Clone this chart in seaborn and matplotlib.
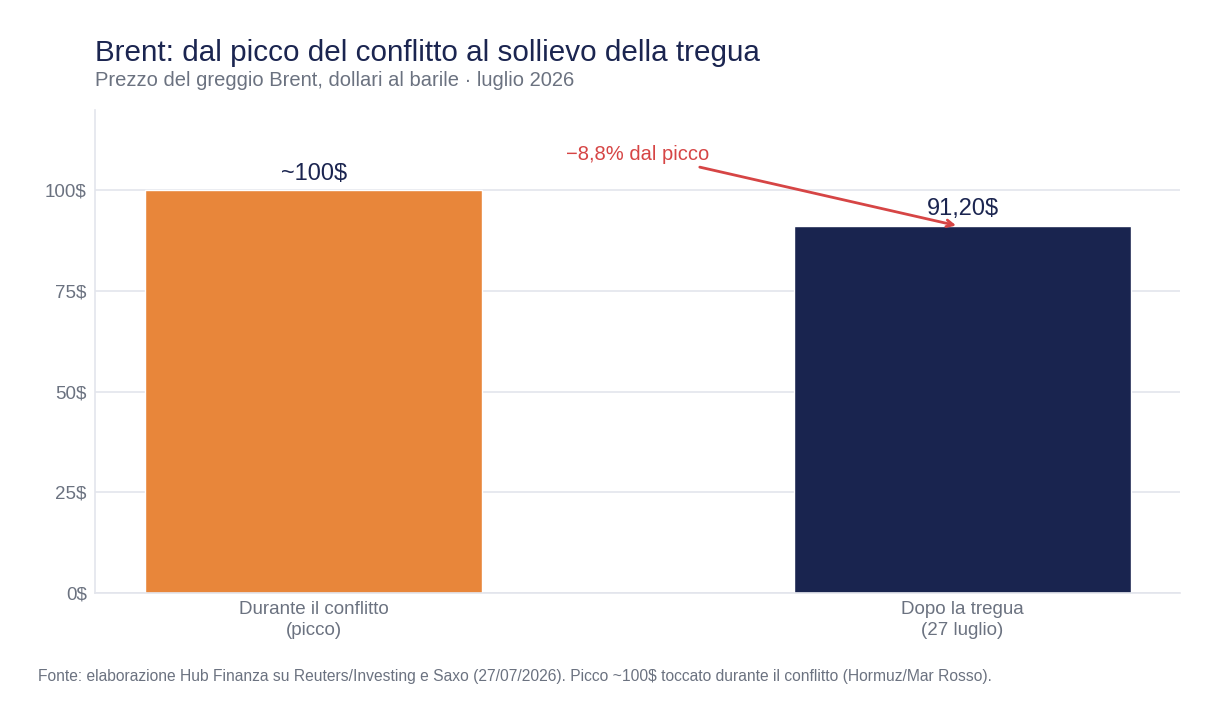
import matplotlib
matplotlib.use('Agg')
import matplotlib.pyplot as plt
import seaborn as sns
import pandas as pd

categories = ['Durante il conflitto\n(picco)', 'Dopo la tregua\n(27 luglio)']
prices = [100.0, 91.2]
bar_labels = ['~100$', '91,20$']
bar_colors = ['#E8863A', '#19244F']
y_ticks = [0, 25, 50, 75, 100]

NAVY = '#1B2550'
GRAY = '#6B7280'
GRID = '#E3E5EC'
RED = '#D64545'

sns.set_theme(style='white')
plt.rcParams['font.family'] = ['Liberation Sans', 'DejaVu Sans']

df = pd.DataFrame({'Fase': categories, 'Prezzo': prices})

fig = plt.figure(figsize=(12.19, 7.23), dpi=100)
ax = fig.add_axes([0.0779, 0.1798, 0.8901, 0.6681])

sns.barplot(data=df, x='Fase', y='Prezzo', hue='Fase', palette=bar_colors,
            width=0.52, legend=False, ax=ax, saturation=1)

for container, lab in zip(ax.containers, bar_labels):
    ax.bar_label(container, labels=[lab], padding=4, fontsize=17, color=NAVY)

ax.set_ylim(0, 120)
ax.set_xlim(-0.337, 1.335)
ax.set_yticks(y_ticks)
ax.set_yticklabels([f'{v}$' for v in y_ticks])
ax.yaxis.grid(True, color=GRID, linewidth=1.2)
ax.set_axisbelow(True)
ax.tick_params(axis='both', length=0, labelsize=13.5, labelcolor=GRAY, pad=6)
for lab in ax.get_xticklabels():
    lab.set_linespacing(1.25)
ax.set_xlabel('')
ax.set_ylabel('')
for side in ['top', 'right']:
    ax.spines[side].set_visible(False)
for side in ['left', 'bottom']:
    ax.spines[side].set_color(GRID)
    ax.spines[side].set_linewidth(1.2)

# annotazione calo dal picco
ax.text(0.5, 108.9, '−8,8% dal picco', ha='center', va='center',
        fontsize=14.5, color=RED)
ax.annotate('', xy=(0.99, 91.3), xytext=(0.595, 105.8),
            arrowprops=dict(arrowstyle='->', color=RED, lw=2,
                            shrinkA=0, shrinkB=0))

fig.text(0.0779, 0.915, 'Brent: dal picco del conflitto al sollievo della tregua',
         fontsize=21.3, color=NAVY, ha='left', va='baseline')
fig.text(0.0779, 0.881, 'Prezzo del greggio Brent, dollari al barile · luglio 2026',
         fontsize=14.5, color=GRAY, ha='left', va='baseline')
fig.text(0.031, 0.058,
         'Fonte: elaborazione Hub Finanza su Reuters/Investing e Saxo (27/07/2026). '
         'Picco ~100$ toccato durante il conflitto (Hormuz/Mar Rosso).',
         fontsize=11.25, color=GRAY, ha='left', va='baseline')

fig.savefig('out.png', dpi=100)
